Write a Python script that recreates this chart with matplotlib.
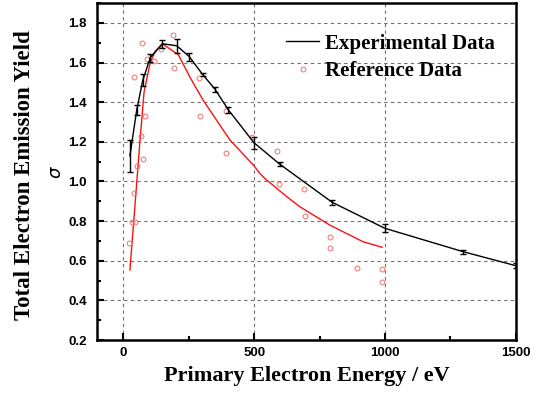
import matplotlib
matplotlib.use("Agg")
import matplotlib.pyplot as plt
from matplotlib.ticker import MultipleLocator
from matplotlib.lines import Line2D

# Experimental data (black line with error bars)
exp_x = [25, 51, 74, 103, 149, 204, 252, 303, 350, 401, 499, 598, 798, 999, 1298, 1500]
exp_y = [1.13, 1.36, 1.51, 1.625, 1.695, 1.685, 1.63, 1.54, 1.466, 1.362, 1.196, 1.087, 0.895, 0.764, 0.646, 0.575]
exp_err = [0.08, 0.025, 0.03, 0.02, 0.02, 0.035, 0.02, 0.01, 0.012, 0.015, 0.03, 0.01, 0.012, 0.02, 0.01, 0.012]

# Reference curve (red line)
ref_line_x = [25, 45, 62, 79, 102, 121, 149, 210, 255, 305, 407, 496, 522, 547, 624, 674, 789, 916, 989]
ref_line_y = [0.553, 0.89, 1.18, 1.45, 1.597, 1.656, 1.695, 1.64, 1.525, 1.41, 1.21, 1.084, 1.04, 1.008, 0.924, 0.873, 0.78, 0.696, 0.668]

# Reference data (open circles)
ref_x = [23, 33, 45, 41, 53, 66, 74, 83, 41, 73, 92, 116, 144, 191, 195, 290, 292, 391, 392,
         491, 589, 596, 690, 693, 788, 788, 891, 989, 989]
ref_y = [0.688, 0.797, 0.797, 0.944, 1.08, 1.23, 1.114, 1.328, 1.527, 1.70, 1.617, 1.607, 1.67,
         1.737, 1.575, 1.52, 1.328, 1.357, 1.146, 1.227, 1.155, 0.986, 0.96, 0.826, 0.719,
         0.663, 0.562, 0.559, 0.492]

x_ticks = [0, 500, 1000, 1500]
y_ticks = [0.2, 0.4, 0.6, 0.8, 1.0, 1.2, 1.4, 1.6, 1.8]

fig = plt.figure(figsize=(5.43, 3.94), dpi=100)
ax = fig.add_axes([0.179, 0.137, 0.771, 0.855])

ax.errorbar(exp_x, exp_y, yerr=exp_err, color="black", lw=1.0, capsize=2.5,
            elinewidth=1.0, capthick=1.0, zorder=4)
ax.plot(ref_line_x, ref_line_y, color="#ff1010", lw=1.0, zorder=3)
ax.plot(ref_x, ref_y, linestyle="none", marker="o", markersize=3.5, markerfacecolor="none",
        markeredgecolor="#f07070", markeredgewidth=0.7, zorder=3)

ax.set_xlim(-100, 1500)
ax.set_ylim(0.2, 1.9)
ax.set_xticks(x_ticks)
ax.set_yticks(y_ticks)
ax.set_xticklabels([str(v) for v in x_ticks], fontweight="bold", family="Liberation Sans")
ax.set_yticklabels([f"{v:.1f}" for v in y_ticks], fontweight="bold", family="Liberation Sans")
ax.xaxis.set_minor_locator(MultipleLocator(250))
ax.yaxis.set_minor_locator(MultipleLocator(0.1))
ax.tick_params(which="both", direction="in", width=1.5)
ax.tick_params(which="major", length=5, labelsize=9.5)
ax.tick_params(axis="x", which="major", pad=5)
ax.tick_params(axis="y", which="major", pad=7.5)
ax.tick_params(which="minor", length=3)

for s in ax.spines.values():
    s.set_linewidth(1.8)

ax.grid(True, which="major", color="#707070", linestyle=(0, (3, 3)), lw=0.8)
ax.set_axisbelow(True)

ax.set_xlabel("Primary Electron Energy / eV", family="Liberation Serif", fontweight="bold",
              fontsize=16, labelpad=5)
fig.text(0.046, 0.555, "Total Electron Emission Yield", family="Liberation Serif",
         fontweight="bold", fontsize=16.5, rotation=90, ha="center", va="center")
fig.text(0.103, 0.563, r"$\sigma$", fontsize=13, rotation=90, ha="center", va="center")

handles = [
    Line2D([], [], color="black", lw=1.0),
    Line2D([], [], linestyle="none", marker="o", markersize=3.5, markerfacecolor="none",
           markeredgecolor="#f07070", markeredgewidth=0.7),
]
ax.legend(handles, ["Experimental Data", "Reference Data"], loc="upper left",
          bbox_to_anchor=(0.426, 0.94), frameon=False, borderpad=0,
          prop={"family": "Liberation Serif", "weight": "bold", "size": 15},
          handlelength=1.6, handletextpad=0.25, labelspacing=0.35)

fig.savefig("out.png", dpi=100)
